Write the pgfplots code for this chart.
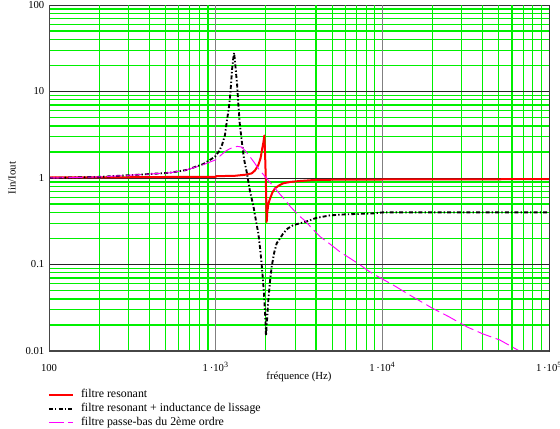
\documentclass[border=0pt]{standalone}
\usepackage{fontspec}
\setmainfont{Liberation Serif}
\usepackage{pgfplots}
\pgfplotsset{compat=1.18}
\usetikzlibrary{calc}
\definecolor{gridgreen}{RGB}{0,240,0}
\definecolor{axgray}{RGB}{70,70,70}
\definecolor{mag}{RGB}{255,0,255}
\begin{document}
\begin{tikzpicture}
\begin{axis}[name=ax, scale only axis, width=375pt, height=259.5pt,
  xmode=log, ymode=log, xmin=100, xmax=100000, ymin=0.01, ymax=100,
  xtick={100,1000,10000,100000},
  xticklabels={100, 1\,·10\textsuperscript{3}, 1\,·10\textsuperscript{4}, 1\,·10\textsuperscript{5}},
  ytick={0.01,0.1,1,10,100},
  yticklabels={0.01,0.1,1,10,100},
  minor xtick={}, minor ytick={},
  major tick length=0pt, minor tick length=0pt,
  axis line style={black!80, line width=0.7pt},
  /pgf/number format/assume math mode=true,
  tick label style={font=\fontsize{8}{9.6}\selectfont},
  xticklabel style={anchor=base, yshift=-15.5pt},
  label style={font=\fontsize{8.1}{9.7}\selectfont},
  xlabel={fréquence (Hz)},
  ylabel={Iin/Iout},
  xlabel style={at={(axis description cs:0.5,-0.074)}, anchor=center},
  ylabel style={at={(axis description cs:-0.074,0.5)}, anchor=center},
  legend style={at={(axis description cs:0,0)}, anchor=north west, yshift=-27.5pt, xshift=-1pt,
    draw=none, fill=none, inner sep=0pt, row sep=0pt, column sep=4pt,
    font=\fontsize{8.9}{10.5}\selectfont,
    nodes={inner sep=1pt, text height=6.5pt, text depth=2pt}},
  legend cell align=left,
  legend image code/.code={\draw[#1] (0pt,0pt) -- (18.3pt,0pt);},
]
% minor grid (green)
\pgfplotsinvokeforeach{200,300,400,500,600,700,800,900,2000,3000,4000,5000,6000,7000,8000,9000,20000,30000,40000,50000,60000,70000,80000,90000}{
  \draw[gridgreen, line width=0.9pt] (axis cs:#1,0.01) -- (axis cs:#1,100);}
\pgfplotsinvokeforeach{0.02,0.03,0.04,0.05,0.06,0.07,0.08,0.09,0.2,0.3,0.4,0.5,0.6,0.7,0.8,0.9,2,3,4,5,6,7,8,9,20,30,40,50,60,70,80,90}{
  \draw[gridgreen, line width=0.9pt] (axis cs:100,#1) -- (axis cs:100000,#1);}
% major grid
\pgfplotsinvokeforeach{1000,10000}{
  \draw[gray, line width=1.2pt] (axis cs:#1,0.01) -- (axis cs:#1,100);}
\pgfplotsinvokeforeach{0.1,1,10}{
  \draw[black!85, line width=0.7pt] (axis cs:100,#1) -- (axis cs:100000,#1);}
\addplot[red, line width=1.5pt, line join=round] table {
100 1.02
300 1.02
600 1.03
1000 1.03
1010 1.05
1300 1.06
1500 1.09
1644 1.13
1720 1.22
1803 1.41
1860 1.70
1900 2.15
1935 2.60
1959 3.10
1978 2.0
1996 1.08
2010 0.60
2023 0.31
2040 0.40
2070 0.50
2120 0.58
2190 0.68
2270 0.76
2400 0.82
2548 0.87
2800 0.90
3133 0.92
3945 0.95
5000 0.955
7650 0.96
100000 0.97
};
\addlegendentry{filtre resonant}
\addplot[black, line width=1.4pt, line join=round, dash pattern=on 3pt off 1.6pt on 1pt off 1.6pt] table {
100 1.00
202 1.03
368 1.10
532 1.15
670 1.24
843 1.45
990 1.76
1050 2.05
1092 2.41
1137 3.14
1170 4.7
1200 6.5
1219 8.6
1240 13
1253 17.7
1275 24
1290 28
1310 21
1330 15
1343 12.5
1365 7.5
1394 4.3
1440 2.5
1480 1.65
1540 1.14
1607 0.70
1682 0.48
1750 0.31
1803 0.23
1850 0.15
1888 0.10
1920 0.068
1949 0.046
1985 0.025
2004 0.0150
2030 0.022
2070 0.039
2120 0.065
2168 0.094
2240 0.135
2323 0.176
2430 0.20
2548 0.23
2700 0.26
2925 0.286
3436 0.31
4000 0.345
4860 0.37
6000 0.38
8800 0.39
10000 0.40
100000 0.40
};
\addlegendentry{filtre resonant + inductance de lissage}
\addplot[mag, line width=0.7pt, dash pattern=on 11pt off 3.5pt] table {
100 1.00
202 1.03
368 1.10
532 1.15
670 1.24
843 1.43
1000 1.62
1080 1.85
1137 2.02
1200 2.15
1270 2.26
1350 2.32
1432 2.28
1500 2.08
1607 1.76
1700 1.52
1803 1.29
1900 1.14
2023 0.99
2150 0.86
2270 0.76
2430 0.65
2606 0.56
2800 0.47
2992 0.41
3200 0.36
3436 0.32
3800 0.26
4230 0.21
4900 0.17
5570 0.14
6400 0.118
7350 0.099
8500 0.081
10000 0.068
11600 0.058
15000 0.043
20100 0.031
25000 0.025
32200 0.019
40000 0.0158
50700 0.0134
66500 0.0100
80000 0.0083
};
\addlegendentry{filtre passe-bas du 2ème ordre}
\draw[axgray, line width=1.5pt] (rel axis cs:0,1) -- (rel axis cs:0,0) -- (rel axis cs:1,0);
\end{axis}
\pgfresetboundingbox
\path[use as bounding box] ($(ax.south west)+(-36.75pt,-57.75pt)$) rectangle ($(ax.north east)+(8.25pt,3.75pt)$);
\end{tikzpicture}
\end{document}
